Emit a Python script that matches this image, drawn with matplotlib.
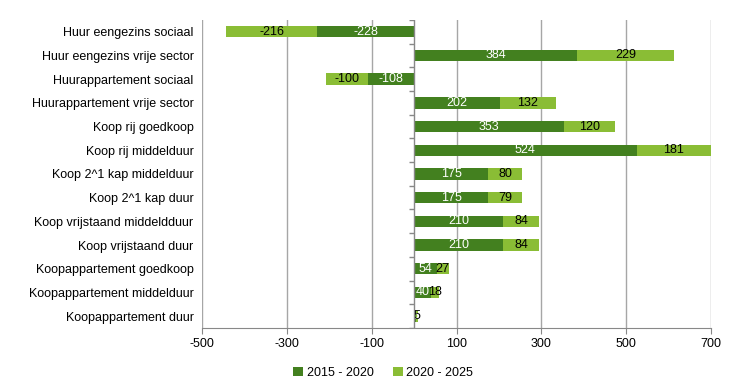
import matplotlib.pyplot as plt
import numpy as np

categories = ["Huur eengezins sociaal", "Huur eengezins vrije sector", "Huurappartement sociaal",
              "Huurappartement vrije sector", "Koop rij goedkoop", "Koop rij middelduur",
              "Koop 2^1 kap middelduur", "Koop 2^1 kap duur", "Koop vrijstaand middeldduur",
              "Koop vrijstaand duur", "Koopappartement goedkoop", "Koopappartement middelduur",
              "Koopappartement duur"]
s2015 = [-228, 384, -108, 202, 353, 524, 175, 175, 210, 210, 54, 40, 5]
s2020 = [-216, 229, -100, 132, 120, 181, 80, 79, 84, 84, 27, 18, 5]
xticks = [-500, -300, -100, 100, 300, 500, 700]

dark = '#43801f'
light = '#8abd35'

plt.rcParams['font.family'] = ['Liberation Sans', 'DejaVu Sans']
plt.rcParams['axes.unicode_minus'] = False
fig = plt.figure(figsize=(7.37, 3.9), dpi=100)
ax = fig.add_axes([0.274, 0.159, 0.691, 0.79])

y = np.arange(len(categories))
b1 = ax.barh(y, s2015, height=0.48, color=dark, label='2015 - 2020', zorder=3)
b2 = ax.barh(y, s2020, left=s2015, height=0.48, color=light, label='2020 - 2025', zorder=3)
ax.bar_label(b1, label_type='center', color='white', fontsize=9)
ax.bar_label(b2, label_type='center', color='black', fontsize=9)

ax.set_xlim(-500, 700)
ax.set_ylim(len(categories) - 0.5, -0.5)
ax.set_xticks(xticks)
ax.set_yticks(y)
ax.set_yticklabels(categories, fontsize=9)
ax.tick_params(axis='y', length=0, pad=6)
ax.tick_params(axis='x', length=4, color='#888888', labelsize=9)
ax.xaxis.grid(True, color='#a6a6a6', linewidth=1, zorder=0)
for s in ['top', 'right', 'left']:
    ax.spines[s].set_visible(False)
ax.spines['bottom'].set_color('#888888')

# vertical axis at zero with boundary ticks
ax.axvline(0, color='#888888', linewidth=1, zorder=4)
ax.hlines(np.arange(-0.5, len(categories)), -12, 0, color='#888888', linewidth=1, zorder=4)

fig.legend(loc='lower center', bbox_to_anchor=(0.52, 0.0), ncol=2, frameon=False,
           fontsize=9, handlelength=0.8, handleheight=0.8, columnspacing=1.5, handletextpad=0.3)

fig.savefig('out.png', dpi=100)
